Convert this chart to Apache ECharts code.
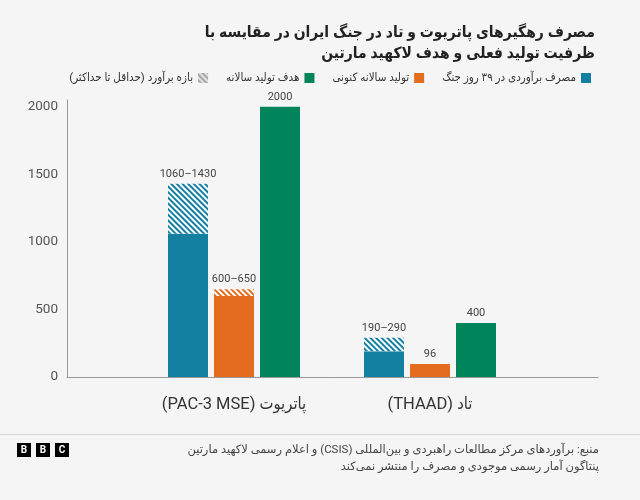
<!DOCTYPE html>
<html>
<head>
<meta charset="utf-8">
<script src="https://cdn.jsdelivr.net/npm/echarts@6/dist/echarts.min.js"></script>
<style>
  html, body { margin: 0; padding: 0; background: #f5f5f5; }
  #main { width: 640px; height: 500px; }
</style>
</head>
<body>
<div id="main"></div>
<script>
// داده‌ها
var categories = ['پاتریوت (PAC-3 MSE)', 'تاد (THAAD)'];
var usedLow = [1060, 190];
var usedHigh = [1430, 290];
var prodLow = [600, 96];
var prodHigh = [650, 96];
var target = [2000, 400];
var usedLabels = ['1060–1430', '190–290'];
var prodLabels = ['600–650', '96'];
var seriesNames = ['مصرف برآوردی در ۳۹ روز جنگ', 'تولید سالانه کنونی', 'هدف تولید سالانه', 'بازه برآورد (حداقل تا حداکثر)'];
var titleLines = ['مصرف رهگیرهای پاتریوت و تاد در جنگ ایران در مقایسه با', 'ظرفیت تولید فعلی و هدف لاکهید مارتین'];
var yMax = 2050;
var yStep = 500;

var BLUE = '#1380a1', ORANGE = '#e46c1e', GREEN = '#00845a';
var FONT = 'Roboto, "DejaVu Sans", sans-serif';
var FONT_FA = 'Roboto, "DejaVu Sans Condensed", "DejaVu Sans", sans-serif';

// متن راست‌به‌چپ (هر خط جدا)
function rtl(s) {
	return s.split('\n').map(function (l) { return '\u202B' + l + '\u202C'; }).join('\n');
}

function diff(a, b) {
	return a.map(function (v, i) { return v - b[i]; });
}

function hatch(c) {
	return { color: c, dashArrayX: [1, 0], dashArrayY: [2, 2], rotation: Math.PI / 4 };
}

var chart = echarts.init(document.getElementById('main'));

var option = {
	backgroundColor: '#f5f5f5',
	animation: false,
	title: titleLines.map(function (t, i) {
		return {
			text: rtl(t),
			right: 45,
			top: 25 + i * 21,
			padding: 0,
			textStyle: { fontFamily: FONT_FA, fontSize: 15.5, fontWeight: 'bold', color: '#222' }
		};
	}),
	legend: {
		data: [seriesNames[3], seriesNames[2], seriesNames[1], seriesNames[0]],
		right: 44,
		top: 67,
		width: 600,
		align: 'right',
		itemWidth: 10,
		itemHeight: 10,
		itemGap: 18,
		icon: 'rect',
		textStyle: { fontFamily: FONT_FA, fontSize: 11.5, color: '#333' },
		formatter: function (n) { return rtl(n); },
		selectedMode: false
	},
	grid: [
		{ left: 67, right: 42, top: 100, bottom: 123 },
		{ left: 136, right: 112, top: 100, bottom: 123 }
	],
	xAxis: [
		{
			gridIndex: 0, type: 'category', data: [''],
			axisLine: { lineStyle: { color: '#999', width: 1 } },
			axisTick: { show: false }, axisLabel: { show: false }
		},
		{
			gridIndex: 1, type: 'category', data: categories.map(rtl),
			axisLine: { show: false }, axisTick: { show: false },
			axisLabel: { margin: 19, fontFamily: FONT_FA, fontSize: 16.5, color: '#333' }
		}
	],
	yAxis: [
		{
			gridIndex: 0, type: 'value', min: 0, max: yMax, interval: yStep,
			axisLine: { show: true, lineStyle: { color: '#999', width: 1 } },
			axisTick: { show: false },
			splitLine: { show: false },
			axisLabel: {
				fontFamily: FONT, fontSize: 13.5, color: '#555', margin: 9,
				formatter: function (v) { return v % yStep === 0 ? String(v) : ''; }
			}
		},
		{
			gridIndex: 1, type: 'value', min: 0, max: yMax, show: false,
			splitLine: { show: false }
		}
	],
	series: [
		{
			name: seriesNames[0], type: 'bar', xAxisIndex: 1, yAxisIndex: 1, stack: 'used',
			barWidth: 40, barGap: '15%', data: usedLow, itemStyle: { color: BLUE }
		},
		{
			name: 'usedRange', type: 'bar', xAxisIndex: 1, yAxisIndex: 1, stack: 'used',
			barWidth: 40, barGap: '15%', data: diff(usedHigh, usedLow),
			itemStyle: { color: '#ffffff', decal: hatch(BLUE) },
			label: {
				show: true, position: 'top', distance: 4, fontFamily: FONT, fontSize: 11, color: '#444',
				formatter: function (p) { return usedLabels[p.dataIndex]; }
			}
		},
		{
			name: seriesNames[1], type: 'bar', xAxisIndex: 1, yAxisIndex: 1, stack: 'prod',
			barWidth: 40, barGap: '15%', data: prodLow, itemStyle: { color: ORANGE }
		},
		{
			name: 'prodRange', type: 'bar', xAxisIndex: 1, yAxisIndex: 1, stack: 'prod',
			barWidth: 40, barGap: '15%', data: diff(prodHigh, prodLow),
			itemStyle: { color: '#ffffff', decal: hatch(ORANGE) },
			label: {
				show: true, position: 'top', distance: 4, fontFamily: FONT, fontSize: 11, color: '#444',
				formatter: function (p) { return prodLabels[p.dataIndex]; }
			}
		},
		{
			name: seriesNames[2], type: 'bar', xAxisIndex: 1, yAxisIndex: 1, stack: 'target',
			barWidth: 40, barGap: '15%', data: target, itemStyle: { color: GREEN },
			label: { show: true, position: 'top', distance: 4, fontFamily: FONT, fontSize: 11, color: '#444' }
		},
		{
			// فقط برای راهنما، روی شبکه‌ی دیگر تا جای میله نگیرد
			name: seriesNames[3], type: 'bar', xAxisIndex: 0, yAxisIndex: 0,
			data: [],
			itemStyle: { color: '#e0e0e0', decal: hatch('#a8a8a8') }
		}
	],
	graphic: [
		{ type: 'rect', shape: { x: 0, y: 434, width: 640, height: 1 }, style: { fill: '#d6d6d6' } },
		{ type: 'rect', shape: { x: 17, y: 443, width: 14, height: 14 }, style: { fill: '#000' } },
		{ type: 'rect', shape: { x: 36, y: 443, width: 14, height: 14 }, style: { fill: '#000' } },
		{ type: 'rect', shape: { x: 55, y: 443, width: 14, height: 14 }, style: { fill: '#000' } },
		{ type: 'text', x: 24, y: 450, style: { text: 'B', fill: '#fff', font: 'bold 10px Roboto', align: 'center', verticalAlign: 'middle' } },
		{ type: 'text', x: 43, y: 450, style: { text: 'B', fill: '#fff', font: 'bold 10px Roboto', align: 'center', verticalAlign: 'middle' } },
		{ type: 'text', x: 62, y: 450, style: { text: 'C', fill: '#fff', font: 'bold 10px Roboto', align: 'center', verticalAlign: 'middle' } },
		{
			type: 'text', x: 599, y: 442,
			style: {
				text: rtl('منبع: برآوردهای مرکز مطالعات راهبردی و بین‌المللی (CSIS) و اعلام رسمی لاکهید مارتین\nپنتاگون آمار رسمی موجودی و مصرف را منتشر نمی‌کند'),
				fill: '#444', font: '11.5px ' + FONT, align: 'right', verticalAlign: 'top', lineHeight: 17
			}
		}
	]
};

chart.setOption(option);
</script>
</body>
</html>
